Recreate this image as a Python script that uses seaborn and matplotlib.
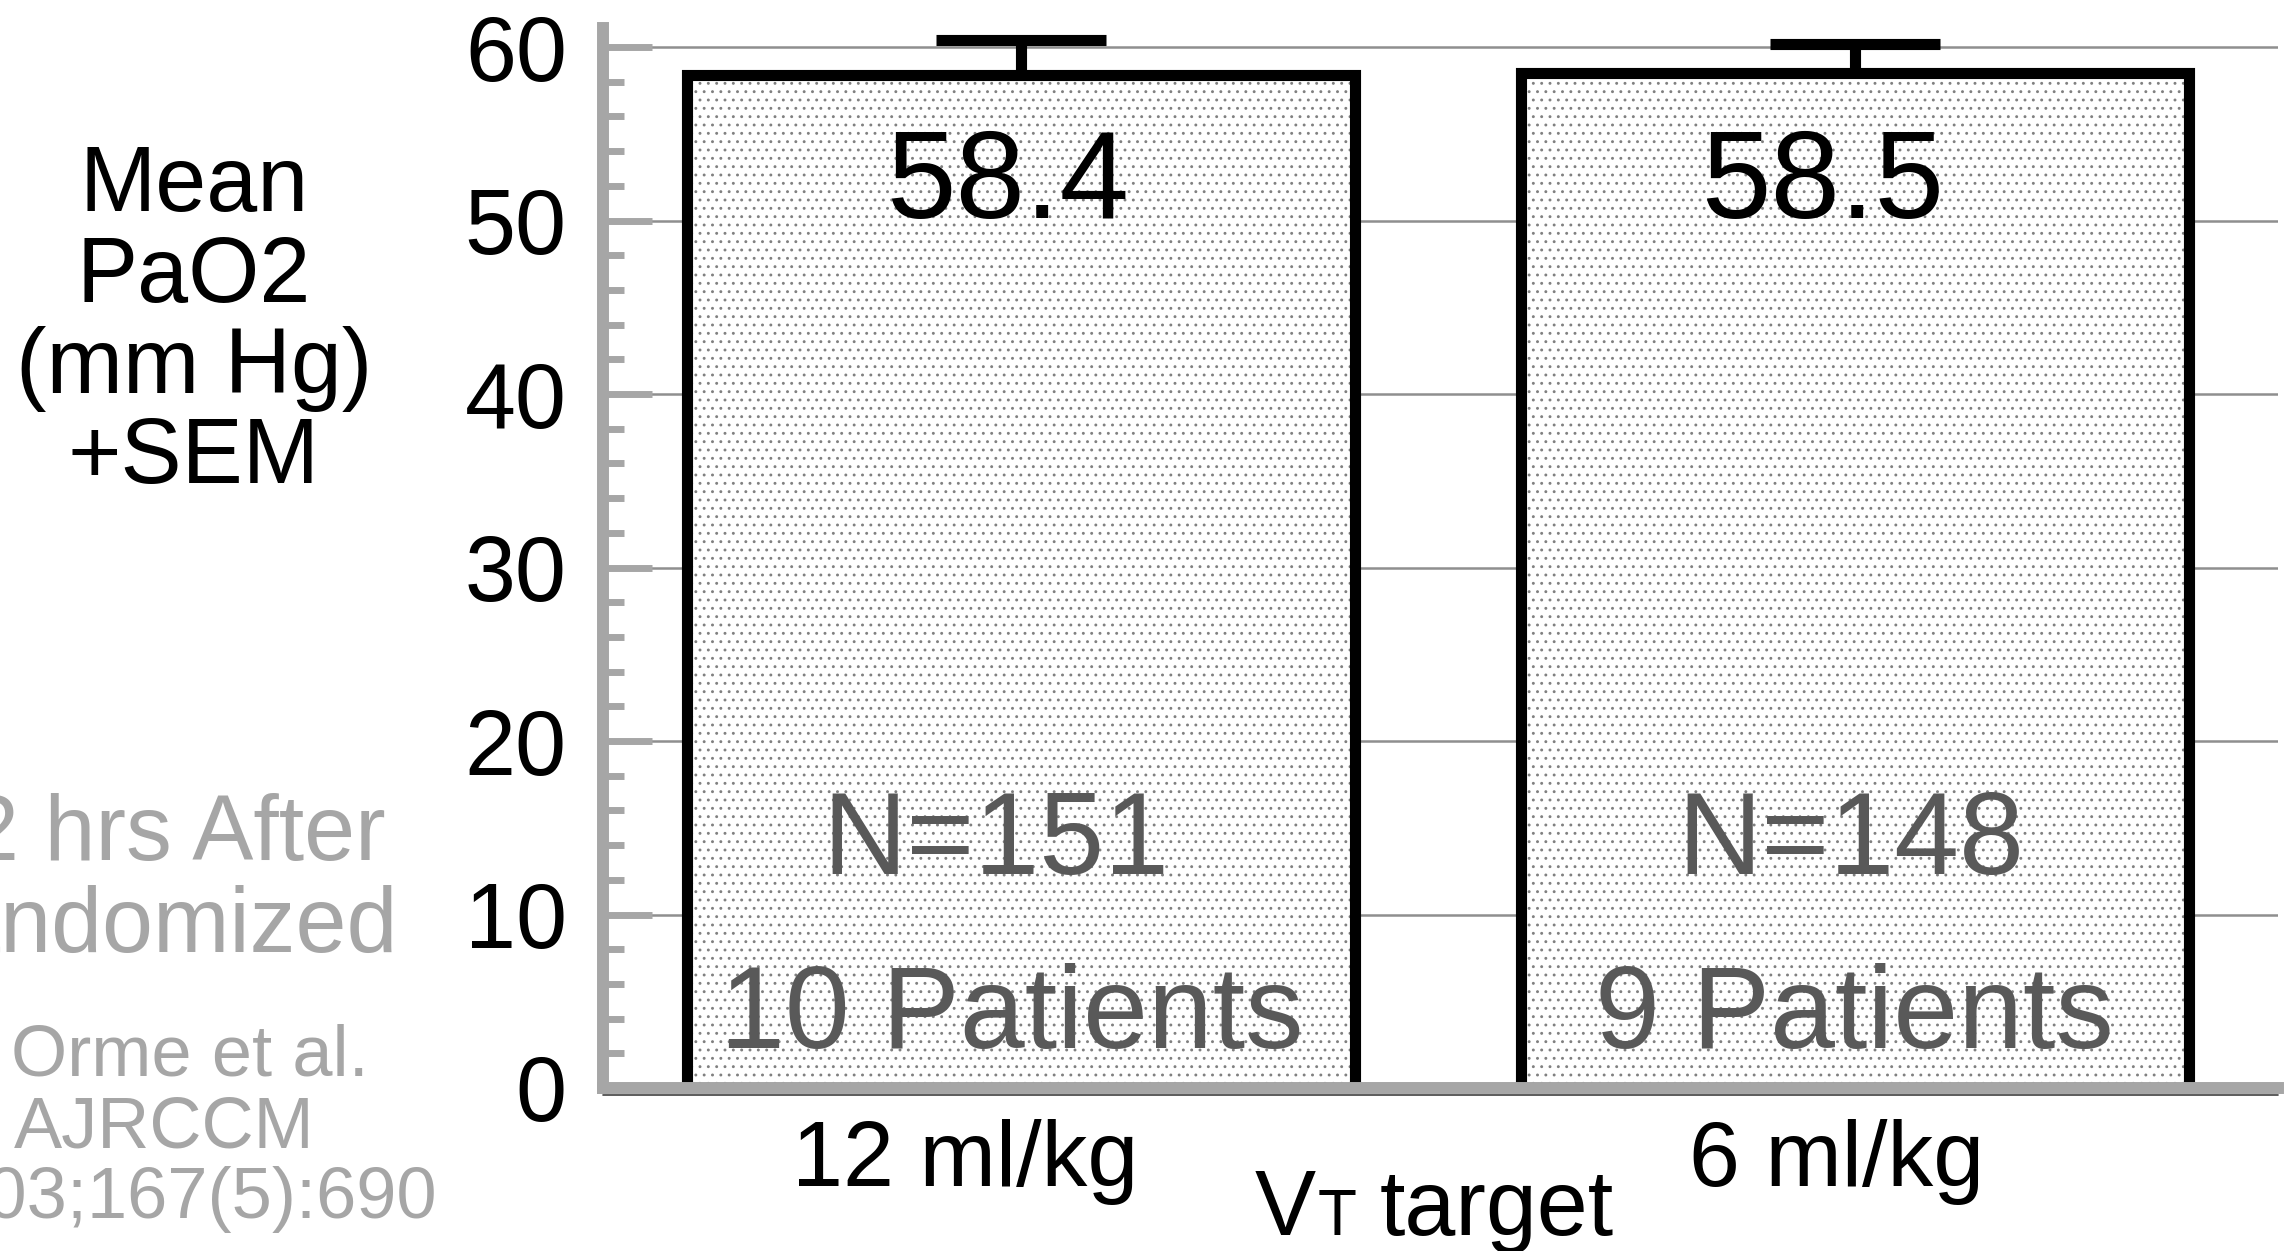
import numpy as np
import pandas as pd
import matplotlib
matplotlib.use("Agg")
import matplotlib.pyplot as plt
import seaborn as sns
from matplotlib.ticker import MultipleLocator
from matplotlib.transforms import ScaledTranslation

# ---------------- data ----------------
categories = ["12 ml/kg", "6 ml/kg"]
mean_pao2 = [58.4, 58.5]
sem_pao2 = [2.0, 1.7]
n_obs = [151, 148]
n_patients = [10, 9]
y_ticks = [0, 10, 20, 30, 40, 50, 60]
ylabel_lines = ["Mean", "PaO2", "(mm Hg)", "+SEM"]
note_lines = ["12 hrs After", "Randomized"]
citation_lines = ["Orme et al.", "AJRCCM", "2003;167(5):690"]

# ---------------- style ----------------
sns.set_style("white")
plt.rcParams["font.family"] = ["Liberation Sans", "DejaVu Sans"]
plt.rcParams["hatch.linewidth"] = 0.9
plt.rcParams["hatch.color"] = "#808080"

W, H = 2292, 1251
fig = plt.figure(figsize=(W / 100, H / 100), dpi=100)
fig.patch.set_facecolor("white")

ax_l, ax_r, ax_t, ax_b = 603, 2278, 28, 1088
ax = fig.add_axes([ax_l / W, 1 - ax_b / H, (ax_r - ax_l) / W, (ax_b - ax_t) / H])

df = pd.DataFrame({"target": categories, "pao2": mean_pao2})

# dotted fill
sns.barplot(data=df, x="target", y="pao2", ax=ax, color="white",
            errorbar=None, width=0.8)
fill_patches = list(ax.patches)
for p in fill_patches:
    p.set_facecolor("white")
    p.set_edgecolor("#808080")
    p.set_hatch("..")
    p.set_linewidth(0)

# black outlines
sns.barplot(data=df, x="target", y="pao2", ax=ax, color="black", fill=False,
            errorbar=None, width=0.8)
for p in ax.patches[len(fill_patches):]:
    p.set_facecolor("none")
    p.set_edgecolor("black")
    p.set_linewidth(8)
    p.set_joinstyle("miter")
    p.set_hatch(None)

# error bars (upper only)
xpos = np.arange(len(categories))
means = np.array(mean_pao2)
sems = np.array(sem_pao2)
cont = ax.errorbar(xpos, means, yerr=[np.zeros_like(sems), sems], fmt="none",
                   ecolor="black", elinewidth=8, capsize=61.5, capthick=8,
                   zorder=5)
for cl in cont.lines[1]:
    if np.allclose(cl.get_ydata(), means):
        cl.set_visible(False)


def shifted(artist, dx_px):
    artist.set_transform(artist.get_transform() +
                         ScaledTranslation(dx_px / 100, 0, fig.dpi_scale_trans))


# value / count labels
val_dx = [-13, -33]
n_dx = [-25, -4]
pat_dx = [-9, -1]
for i in range(len(categories)):
    t = ax.text(xpos[i], 50.14, f"{mean_pao2[i]:.1f}", ha="center", va="baseline",
                fontsize=90, color="black", zorder=6)
    shifted(t, val_dx[i])
    t = ax.text(xpos[i], 12.33, f"N={n_obs[i]}", ha="center", va="baseline",
                fontsize=84, color="#595959", zorder=6)
    shifted(t, n_dx[i])
    t = ax.text(xpos[i], 2.31, f"{n_patients[i]} Patients", ha="center",
                va="baseline", fontsize=84, color="#595959", zorder=6)
    shifted(t, pat_dx[i])

# axes limits / ticks
ax.set_xlim(-0.501, 1.507)
ax.set_ylim(0, 61.1)
ax.set_yticks(y_ticks)
ax.yaxis.set_minor_locator(MultipleLocator(2))
ax.set_xlabel("")
ax.set_ylabel("")
ax.tick_params(axis="y", which="major", direction="in", length=35, width=5,
               color="#a6a6a6", labelsize=66, pad=26, labelcolor="black", left=True)
ax.tick_params(axis="y", which="minor", direction="in", length=15, width=5,
               color="#a6a6a6", left=True)
ax.tick_params(axis="x", length=0, labelsize=66, pad=22, labelcolor="black")
for lab, dx in zip(ax.get_xticklabels(), [-56, -19]):
    shifted(lab, dx)

ax.yaxis.grid(True, color="#8f8f8f", linewidth=1.8)
ax.xaxis.grid(False)
ax.set_axisbelow(True)

for s in ["top", "right"]:
    ax.spines[s].set_visible(False)
for s in ["left", "bottom"]:
    ax.spines[s].set_color("#a6a6a6")
    ax.spines[s].set_linewidth(8.6)
ax.spines["left"].set_capstyle("projecting")

shadow = ax.axhline(0, color="#404040", linewidth=1.2, zorder=2.4, clip_on=False)
shadow.set_transform(shadow.get_transform() + ScaledTranslation(0, -6.5 / 100, fig.dpi_scale_trans))


def ftext(xpx, ypx, s, **kw):
    kw.setdefault("va", "baseline")
    fig.text(xpx / W, 1 - ypx / H, s, **kw)


# y label block
for line, yb in zip(ylabel_lines, [211, 302, 393, 483]):
    ftext(194, yb, line, ha="center", fontsize=66, color="black")

# gray note (partly cut at the left edge, as in the original slide)
for line, xr, yb in zip(note_lines, [386, 398], [860, 952]):
    ftext(xr, yb, line, ha="right", fontsize=66, color="#a6a6a6")

# citation
for line, xr, yb in zip(citation_lines, [369, 314, 437], [1075, 1147, 1218]):
    ftext(xr, yb, line, ha="right", fontsize=52, color="#a6a6a6")

# x axis title "VT target"
ftext(1255, 1235, "V", ha="left", fontsize=66, color="black")
ftext(1318, 1235, "T", ha="left", fontsize=46, color="black")
ftext(1380, 1235, "target", ha="left", fontsize=66, color="black")

fig.savefig("out.png", dpi=100, facecolor="white")
